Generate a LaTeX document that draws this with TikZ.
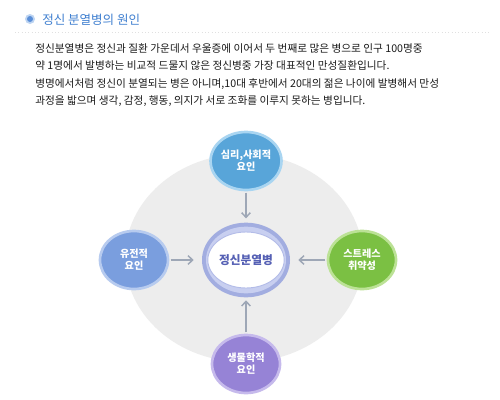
\documentclass[tikz,border=0pt]{standalone}
\usepackage{fontspec}
\setmainfont{Noto Sans CJK KR}
\usetikzlibrary{shapes.geometric,arrows.meta}
\definecolor{titleblue}{HTML}{3F7FD0}
\definecolor{bulletin}{HTML}{5B8FD8}
\definecolor{bulletout}{HTML}{BED5F2}
\definecolor{bodytext}{HTML}{1A1A1A}
\definecolor{greybg}{HTML}{EDEDED}
\definecolor{arrowgrey}{HTML}{9EA7B6}
\definecolor{topfill}{HTML}{58A5D9}
\definecolor{topedge}{HTML}{A9D5F1}
\definecolor{leftfill}{HTML}{7A9EDE}
\definecolor{leftedge}{HTML}{B7CBEF}
\definecolor{rightfill}{HTML}{7BC043}
\definecolor{rightedge}{HTML}{BCE296}
\definecolor{botfill}{HTML}{9683D6}
\definecolor{botedge}{HTML}{C6BAEC}
\definecolor{ringout}{HTML}{A2ADE0}
\definecolor{ringmid}{HTML}{C8CFF0}
\definecolor{ringline}{HTML}{B3BCE8}
\definecolor{centertext}{HTML}{5560B4}
\tikzset{
  factor/.style={ellipse, inner sep=0pt, minimum width=51pt, minimum height=43.5pt,
    line width=2pt, text=white, align=center,
    font=\bfseries\fontsize{7.6}{9}\selectfont},
  bodyline/.style={anchor=base west, inner sep=0pt, text=bodytext,
    font=\fontsize{8}{9}\selectfont},
  link/.style={draw=arrowgrey, line width=1.1pt, -{Straight Barb[length=3.5pt,width=6.5pt]}}
}
\begin{document}
\begin{tikzpicture}[x=0.75pt,y=-0.75pt]
\useasboundingbox (0,0) rectangle (500,400);
\fill[white] (0,0) rectangle (500,400);
% title
\fill[bulletout] (30,19) circle (5);
\fill[bulletin] (30,19) circle (3);
\node[anchor=base west, inner sep=0pt, text=titleblue, font=\fontsize{9.4}{11}\selectfont] (title) at (42,24) {정신 분열병의 원인};
\draw[black!12, dotted, line width=0.5pt] (15,32) -- (490,32);
% body
\node[bodyline] (l1) at (35,52) {정신분열병은 정신과 질환 가운데서 우울증에 이어서 두 번째로 많은 병으로 인구 100명중};
\node[bodyline] (l2) at (35,69.5) {약 1명에서 발병하는 비교적 드물지 않은 정신병중 가장 대표적인 만성질환입니다.};
\node[bodyline] (l3) at (35,87) {병명에서처럼 정신이 분열되는 병은 아니며,10대 후반에서 20대의 젊은 나이에 발병해서 만성};
\node[bodyline] (l4) at (35,104.5) {과정을 밟으며 생각, 감정, 행동, 의지가 서로 조화를 이루지 못하는 병입니다.};
% background disc
\fill[greybg] (244,258) ellipse [x radius=119, y radius=104];
% centre
\node[ellipse, fill=ringout, minimum width=66pt, minimum height=56pt, inner sep=0pt] (center) at (246,260) {};
\node[ellipse, fill=ringmid, minimum width=60pt, minimum height=50pt, inner sep=0pt] (centermid) at (246,260) {};
\node[ellipse, fill=white, draw=ringline, line width=0.7pt, minimum width=52pt, minimum height=42pt, inner sep=0pt,
  text=centertext, font=\bfseries\fontsize{8.8}{10}\selectfont] (centerin) at (246,260) {정신분열병};
% factors
\node[factor, fill=topfill, draw=topedge] (top) at (246,161) {심리,사회적\\요인};
\node[factor, fill=leftfill, draw=leftedge] (left) at (134,260) {유전적\\요인};
\node[factor, fill=rightfill, draw=rightedge] (right) at (362,260) {스트레스\\취약성};
\node[factor, fill=botfill, draw=botedge] (bottom) at (246,364) {생물학적\\요인};
% connectors
\draw[link, shorten <=1pt, shorten >=3pt] (top) -- (center);
\draw[link, shorten <=1pt, shorten >=6pt] (left) -- (center);
\draw[link, shorten <=1pt, shorten >=6pt] (right) -- (center);
\draw[link, shorten <=1pt, shorten >=2pt] (bottom) -- (center);
\end{tikzpicture}
\end{document}
